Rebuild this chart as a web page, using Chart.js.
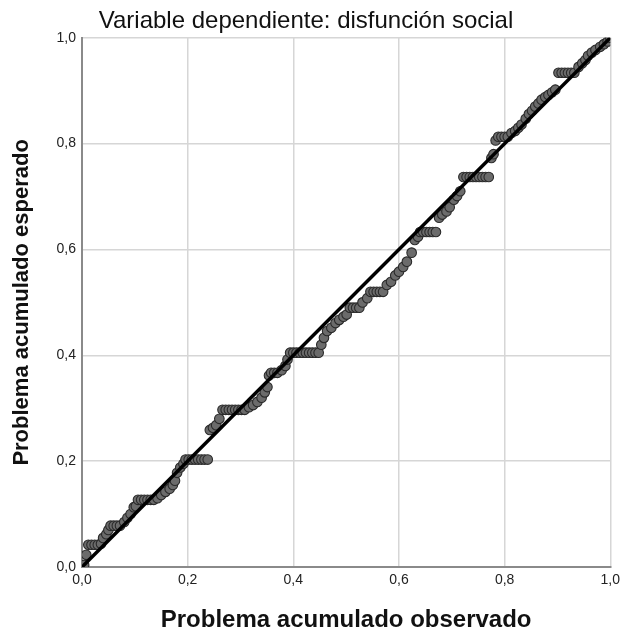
<!DOCTYPE html>
<html>
<head>
<meta charset="utf-8">
<script src="https://cdn.jsdelivr.net/npm/chart.js@4.4.1/dist/chart.umd.min.js"></script>
<style>
  body { margin: 0; background: #fff; }
  #chart { display: block; }
</style>
</head>
<body>
<canvas id="chart" width="625" height="640"></canvas>
<script>
// observed cumulative probability (x) and expected cumulative probability (y)
const observed = [
  0.004, 0.008, 0.012, 0.018, 0.024, 0.030, 0.036, 0.040, 0.046, 0.050,
  0.054, 0.060, 0.066, 0.072, 0.080, 0.086, 0.092, 0.098, 0.102,
  0.106, 0.112, 0.118, 0.124, 0.130, 0.136,
  0.143, 0.150, 0.158, 0.166, 0.172, 0.176, 0.180, 0.186, 0.192,
  0.196, 0.202, 0.208, 0.214, 0.220, 0.226, 0.232, 0.238,
  0.242, 0.248, 0.254, 0.260,
  0.266, 0.272, 0.278, 0.284, 0.290, 0.296, 0.302, 0.308,
  0.316, 0.324, 0.332, 0.340, 0.346, 0.351, 0.354,
  0.358, 0.364, 0.370, 0.378, 0.385, 0.389,
  0.394, 0.400, 0.406, 0.412, 0.418, 0.424, 0.430, 0.436, 0.442, 0.448,
  0.453, 0.458, 0.464, 0.472, 0.480, 0.487, 0.495, 0.501,
  0.507, 0.513, 0.519, 0.525, 0.531, 0.540,
  0.546, 0.552, 0.558, 0.564, 0.570,
  0.577, 0.585, 0.593, 0.600, 0.608, 0.615, 0.624, 0.630, 0.636,
  0.640, 0.646, 0.652, 0.658, 0.664, 0.670,
  0.676, 0.682, 0.690, 0.696, 0.704, 0.710, 0.716,
  0.722, 0.728, 0.734, 0.740, 0.746, 0.752, 0.758, 0.764, 0.770,
  0.775, 0.779, 0.783, 0.788, 0.794, 0.800, 0.806,
  0.813, 0.820, 0.826, 0.832, 0.840, 0.846, 0.852, 0.858, 0.864, 0.870,
  0.877, 0.883, 0.890, 0.896,
  0.902, 0.908, 0.914, 0.920, 0.926, 0.932,
  0.940, 0.947, 0.953, 0.958, 0.965, 0.972, 0.981, 0.988, 0.995, 1.000
];
const expected = [
  0.004, 0.023, 0.042, 0.042, 0.042, 0.042, 0.044, 0.055, 0.062, 0.070,
  0.078, 0.078, 0.078, 0.078, 0.085, 0.093, 0.100, 0.113, 0.115,
  0.127, 0.127, 0.127, 0.127, 0.127, 0.127,
  0.130, 0.136, 0.142, 0.148, 0.155, 0.163, 0.178, 0.188, 0.195,
  0.203, 0.203, 0.203, 0.203, 0.203, 0.203, 0.203, 0.203,
  0.259, 0.263, 0.268, 0.280,
  0.297, 0.297, 0.297, 0.297, 0.297, 0.297, 0.297, 0.297,
  0.302, 0.306, 0.312, 0.320, 0.330, 0.340, 0.362,
  0.367, 0.367, 0.367, 0.372, 0.380, 0.392,
  0.405, 0.405, 0.405, 0.405, 0.405, 0.405, 0.405, 0.405, 0.405, 0.405,
  0.420, 0.433, 0.446, 0.452, 0.461, 0.467, 0.473, 0.477,
  0.490, 0.490, 0.490, 0.490, 0.500, 0.508,
  0.520, 0.520, 0.520, 0.520, 0.520,
  0.533, 0.539, 0.551, 0.558, 0.567, 0.577, 0.594, 0.618, 0.624,
  0.633, 0.633, 0.633, 0.633, 0.633, 0.633,
  0.660, 0.666, 0.672, 0.680, 0.694, 0.701, 0.710,
  0.737, 0.737, 0.737, 0.737, 0.737, 0.737, 0.737, 0.737, 0.737,
  0.773, 0.780, 0.806, 0.813, 0.813, 0.813, 0.813,
  0.820, 0.824, 0.830, 0.836, 0.847, 0.856, 0.862, 0.870, 0.876, 0.883,
  0.888, 0.892, 0.897, 0.902,
  0.934, 0.934, 0.934, 0.934, 0.934, 0.934,
  0.945, 0.952, 0.958, 0.966, 0.972, 0.977, 0.983, 0.988, 0.993, 1.000
];
const refX = [0, 1];
const refY = [0, 1];
const tickValues = [0, 0.2, 0.4, 0.6, 0.8, 1.0];

const titleText = "Variable dependiente: disfunción social";
const xTitle = "Problema acumulado observado";
const yTitle = "Problema acumulado esperado";

const fontFamily = "'Liberation Sans', Arial, sans-serif";
const fmt = v => Number(v).toFixed(1).replace(".", ",");

new Chart(document.getElementById("chart"), {
  type: "scatter",
  data: {
    datasets: [
      {
        type: "line",
        data: refX.map((x, i) => ({ x: x, y: refY[i] })),
        borderColor: "#000",
        borderWidth: 3.5,
        pointRadius: 0,
        fill: false,
        order: 0
      },
      {
        data: observed.map((x, i) => ({ x: x, y: expected[i] })),
        backgroundColor: "#6b6b6b",
        borderColor: "#2a2a2a",
        borderWidth: 1.1,
        pointRadius: 4.8,
        order: 1
      }
    ]
  },
  options: {
    responsive: false,
    animation: false,
    layout: { padding: { right: 13, left: 0, top: 0, bottom: 0 } },
    plugins: {
      legend: { display: false },
      tooltip: { enabled: false },
      title: {
        display: true,
        text: titleText,
        color: "#111",
        font: { family: fontFamily, size: 24, weight: "normal" },
        padding: { top: 7, bottom: 2 }
      }
    },
    scales: {
      x: {
        type: "linear",
        min: 0,
        max: 1,
        afterBuildTicks: axis => { axis.ticks = tickValues.map(v => ({ value: v })); },
        afterFit: axis => { axis.height = 73; },
        ticks: {
          color: "#222",
          font: { family: fontFamily, size: 14 },
          padding: 5,
          maxRotation: 0,
          callback: v => fmt(v)
        },
        grid: { color: "#d6d6d6", lineWidth: 1.5, drawTicks: false },
        border: { color: "#8a8a8a", width: 2 },
        title: {
          display: true,
          text: xTitle,
          color: "#111",
          font: { family: fontFamily, size: 24, weight: "bold" },
          padding: { top: 0, bottom: 5 }
        }
      },
      y: {
        type: "linear",
        min: 0,
        max: 1,
        afterBuildTicks: axis => { axis.ticks = tickValues.map(v => ({ value: v })); },
        afterFit: axis => { axis.width = 82; },
        ticks: {
          color: "#222",
          font: { family: fontFamily, size: 14 },
          padding: 6,
          callback: v => fmt(v)
        },
        grid: { color: "#d6d6d6", lineWidth: 1.5, drawTicks: false },
        border: { color: "#8a8a8a", width: 2 },
        title: {
          display: true,
          text: yTitle,
          color: "#111",
          font: { family: fontFamily, size: 22, weight: "bold" },
          padding: { top: 9, bottom: 0 }
        }
      }
    }
  }
});
</script>
</body>
</html>
